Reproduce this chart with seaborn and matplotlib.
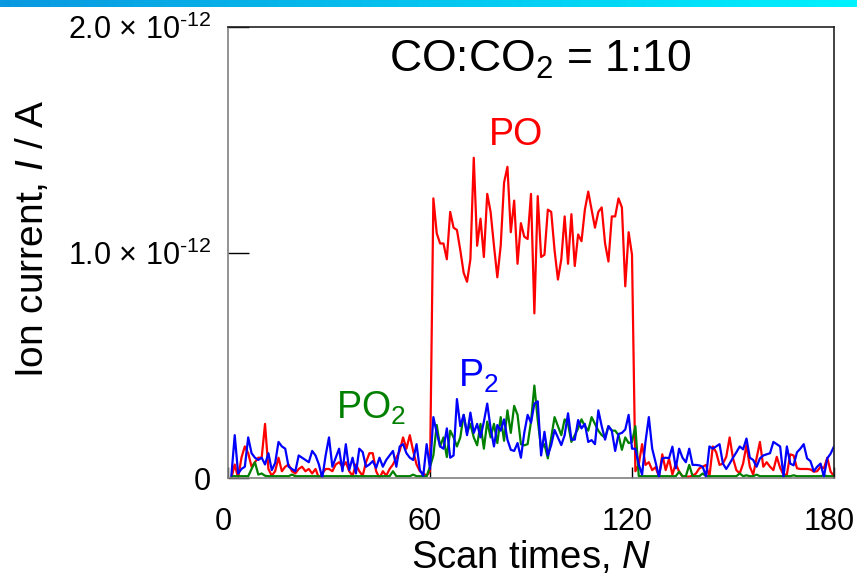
import numpy as np
import pandas as pd
import matplotlib
matplotlib.use('Agg')
import matplotlib.pyplot as plt
import matplotlib.transforms as mtransforms
import seaborn as sns
from matplotlib.colors import LinearSegmentedColormap

sns.set_theme(style='white')
plt.rcParams['font.family'] = ['Liberation Sans', 'DejaVu Sans']
plt.rcParams['mathtext.fontset'] = 'custom'
plt.rcParams['mathtext.rm'] = 'Liberation Sans'
plt.rcParams['mathtext.it'] = 'Liberation Sans:italic'
plt.rcParams['mathtext.bf'] = 'Liberation Sans:bold'
for k in ['text.color', 'axes.labelcolor', 'xtick.color', 'ytick.color']:
    plt.rcParams[k] = 'black'

# ---------------- data (ion current in units of 1e-12 A) ----------------
scan = list(range(1, 181))

po_before = [0.0, 0.06, 0.0, 0.09, 0.14, 0.11, 0.05, 0.07, 0.09, 0.09,
             0.24, 0.04, 0.01, 0.03, 0.09, 0.03, 0.05, 0.06, 0.03, 0.02,
             0.04, 0.05, 0.03, 0.04, 0.02, 0.04, 0.0, 0.02, 0.04, 0.04,
             0.03, 0.06, 0.07, 0.05, 0.07, 0.03, 0.01, 0.06, 0.03, 0.01,
             0.07, 0.11, 0.11, 0.03, 0.0, 0.03, 0.01, 0.04, 0.06, 0.09,
             0.12, 0.18, 0.13, 0.19, 0.12, 0.06, 0.03, 0.02, 0.01, 0.03]
po_during = [1.24, 1.085, 1.04, 1.04, 0.97, 1.18, 1.11, 1.10, 1.01, 0.91,
             0.87, 0.97, 1.42, 1.03, 1.15, 0.98, 1.26, 1.18, 1.03, 0.89,
             1.03, 1.31, 1.38, 1.09, 1.23, 0.95, 1.13, 1.07, 1.06, 1.26,
             0.73, 1.25, 0.98, 0.99, 1.19, 1.18, 1.01, 0.88, 0.97, 1.16,
             0.95, 1.17, 0.94, 1.08, 1.05, 1.19, 1.27, 1.19, 1.11, 1.18,
             1.20, 1.04, 0.96, 1.16, 1.16, 1.24, 1.20, 0.85, 1.09, 0.99]
po_after = [0.03, 0.06, 0.15, 0.058, 0.07, 0.035, 0.048, 0.006, 0.105, 0.035,
            0.085, 0.015, 0.064, 0.028, 0.006, 0.006, 0.006, 0.01, 0.02, 0.043,
            0.05, 0.058, 0.006, 0.14, 0.114, 0.058, 0.064, 0.094, 0.18, 0.087,
            0.035, 0.02, 0.064, 0.146, 0.05, 0.015, 0.087, 0.16, 0.05, 0.07,
            0.05, 0.035, 0.094, 0.045, 0.015, 0.015, 0.105, 0.10, 0.043, 0.04,
            0.04, 0.04, 0.038, 0.028, 0.03, 0.05, 0.043, 0.09, 0.028, 0.008]

po2_before = [0.008, 0.008, 0.008, 0.008, 0.008, 0.008, 0.04, 0.07, 0.015, 0.02,
              0.01, 0.008, 0.008, 0.008, 0.008, 0.008, 0.008, 0.008, 0.015, 0.008,
              0.008, 0.008, 0.008, 0.008, 0.008, 0.008, 0.008, 0.008, 0.008, 0.008,
              0.008, 0.008, 0.008, 0.008, 0.008, 0.008, 0.008, 0.008, 0.008, 0.008,
              0.008, 0.008, 0.008, 0.008, 0.008, 0.008, 0.008, 0.008, 0.03, 0.008,
              0.008, 0.008, 0.008, 0.008, 0.015, 0.008, 0.008, 0.008, 0.008, 0.05]
po2_during = [0.10, 0.235, 0.14, 0.18, 0.093, 0.21, 0.18, 0.14, 0.18, 0.28,
              0.20, 0.24, 0.18, 0.145, 0.24, 0.13, 0.25, 0.18, 0.24, 0.155,
              0.27, 0.165, 0.30, 0.20, 0.32, 0.28, 0.15, 0.145, 0.15, 0.25,
              0.41, 0.257, 0.13, 0.15, 0.087, 0.18, 0.27, 0.23, 0.19, 0.26,
              0.24, 0.16, 0.19, 0.22, 0.26, 0.23, 0.21, 0.27, 0.24, 0.21,
              0.19, 0.18, 0.23, 0.21, 0.21, 0.19, 0.125, 0.18, 0.155, 0.16]
po2_after = [0.23, 0.009, 0.008, 0.008, 0.008, 0.008, 0.008, 0.008, 0.008, 0.008,
             0.008, 0.008, 0.008, 0.028, 0.008, 0.008, 0.058, 0.008, 0.008, 0.008,
             0.02, 0.008, 0.008, 0.008, 0.008, 0.008, 0.008, 0.008, 0.008, 0.008,
             0.008, 0.02, 0.008, 0.012, 0.008, 0.008, 0.015, 0.008, 0.008, 0.008,
             0.008, 0.008, 0.008, 0.008, 0.008, 0.008, 0.008, 0.012, 0.008, 0.008,
             0.008, 0.008, 0.008, 0.008, 0.008, 0.008, 0.012, 0.008, 0.008, 0.008]

p2_before = [0.01, 0.19, 0.02, 0.04, 0.05, 0.18, 0.11, 0.09, 0.08, 0.09,
             0.06, 0.11, 0.035, 0.066, 0.16, 0.14, 0.13, 0.05, 0.04, 0.03,
             0.10, 0.09, 0.08, 0.07, 0.12, 0.10, 0.06, 0.0, 0.10, 0.18,
             0.05, 0.09, 0.13, 0.03, 0.15, 0.035, 0.09, 0.02, 0.13, 0.115,
             0.05, 0.06, 0.075, 0.045, 0.09, 0.05, 0.08, 0.10, 0.12, 0.05,
             0.14, 0.15, 0.11, 0.09, 0.08, 0.15, 0.035, 0.01, 0.15, 0.04]
p2_during = [0.27, 0.20, 0.14, 0.13, 0.22, 0.09, 0.10, 0.35, 0.23, 0.28,
             0.19, 0.29, 0.20, 0.24, 0.18, 0.25, 0.33, 0.22, 0.14, 0.235,
             0.21, 0.26, 0.17, 0.125, 0.12, 0.155, 0.09, 0.20, 0.28, 0.245,
             0.33, 0.34, 0.10, 0.205, 0.10, 0.146, 0.213, 0.18, 0.146, 0.19,
             0.287, 0.17, 0.17, 0.257, 0.22, 0.24, 0.16, 0.168, 0.15, 0.30,
             0.23, 0.17, 0.23, 0.21, 0.12, 0.195, 0.20, 0.215, 0.28, 0.13]
p2_after = [0.13, 0.06, 0.015, 0.16, 0.27, 0.13, 0.07, 0.006, 0.087, 0.09,
            0.088, 0.139, 0.043, 0.13, 0.09, 0.07, 0.13, 0.058, 0.058, 0.056,
            0.05, 0.006, 0.14, 0.13, 0.14, 0.15, 0.064, 0.04, 0.064, 0.09,
            0.114, 0.14, 0.127, 0.175, 0.09, 0.08, 0.05, 0.087, 0.10, 0.105,
            0.11, 0.16, 0.15, 0.14, 0.006, 0.14, 0.064, 0.056, 0.114, 0.13,
            0.15, 0.087, 0.075, 0.03, 0.05, 0.064, 0.006, 0.087, 0.108, 0.14]

species = ['PO', 'PO2', 'P2']
colors = {'PO': '#ff0000', 'PO2': '#008000', 'P2': '#0000ff'}
x_ticks = [0, 60, 120, 180]
y_ticks = [0, 1e-12, 2e-12]
y_tick_labels = ['0',
                 r'1.0 $\times$ 10$^{\text{-12}}$',
                 r'2.0 $\times$ 10$^{\text{-12}}$']
unit = 1e-12

po = po_before + po_during + po_after
po2 = po2_before + po2_during + po2_after
p2 = p2_before + p2_during + p2_after

df = pd.DataFrame({
    'scan': scan * 3,
    'current': np.array(po + po2 + p2) * unit,
    'species': ['PO'] * len(po) + ['PO2'] * len(po2) + ['P2'] * len(p2),
})

# ---------------- figure ----------------
W, H = 857, 575
fig = plt.figure(figsize=(W / 100, H / 100), dpi=100)

# gradient bar at the very top
bar_ax = fig.add_axes([0, 1 - 7 / H, 1, 7 / H])
grad = np.linspace(0, 1, 256).reshape(1, -1)
bar_ax.imshow(grad, aspect='auto',
              cmap=LinearSegmentedColormap.from_list('bar', ['#0a98e0', '#00f2ff']))
bar_ax.axis('off')

ax = fig.add_axes([228 / W, 1 - 478 / H, (834 - 228) / W, (478 - 27) / H])
sns.lineplot(data=df, x='scan', y='current', hue='species', hue_order=species,
             palette=colors, legend=False, lw=1.6, estimator=None, ax=ax)

ax.set_xlim(0, 180)
ax.set_ylim(0, 2e-12)
ax.set_xticks(x_ticks)
ax.set_xticklabels([str(t) for t in x_ticks])
ax.set_yticks(y_ticks)
ax.set_yticklabels(y_tick_labels)
ax.tick_params(axis='x', bottom=True, direction='in', length=8, width=1,
               color='black', labelsize=22, pad=21)
ax.tick_params(axis='y', left=True, direction='in', length=15, width=1,
               color='black', labelsize=22, pad=12)

shift = mtransforms.ScaledTranslation(-5 / 100, 0, fig.dpi_scale_trans)
for lab in ax.get_xticklabels():
    lab.set_transform(lab.get_transform() + shift)

for side in ['left', 'bottom']:
    ax.spines[side].set_color('#808080')
for side in ['top', 'right']:
    ax.spines[side].set_color('#222222')
for s in ax.spines.values():
    s.set_linewidth(1.2)

ax.set_xlabel('Scan times, $N$', fontsize=27.5, labelpad=1)
ax.set_ylabel('Ion current, $I$ / A', fontsize=28, labelpad=12, y=0.53)

ax.text(92.7, 1.853e-12, 'CO:CO$_2$ = 1:10', ha='center', va='center', fontsize=32, color='black')
ax.text(85.5, 1.52e-12, 'PO', ha='center', va='center', fontsize=27, color='#ff0000')
ax.text(74.5, 0.45e-12, 'P$_2$', ha='center', va='center', fontsize=27, color='#0000ff')
ax.text(42.5, 0.31e-12, 'PO$_2$', ha='center', va='center', fontsize=27, color='#008000')

fig.savefig('out.png', dpi=100)
